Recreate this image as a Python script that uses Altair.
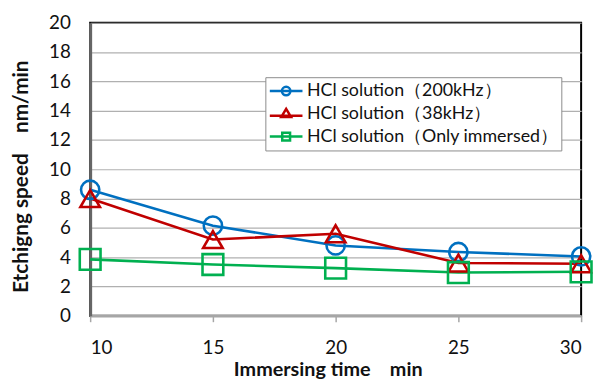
import altair as alt
import pandas as pd

# ---- data ----
times = [10, 15, 20, 25, 30]
series_names = ["HCl solution（200kHz）", "HCl solution（38kHz）", "HCl solution（Only immersed）"]
speed_200k = [8.6, 6.15, 4.8, 4.35, 4.05]
speed_38k = [8.0, 5.2, 5.6, 3.6, 3.55]
speed_imm = [3.85, 3.5, 3.25, 2.95, 3.0]
y_ticks = [0, 2, 4, 6, 8, 10, 12, 14, 16, 18, 20]
x_title = "Immersing time\u00a0\u00a0\u00a0\u00a0min"
y_title = "Etchigng speed\u00a0\u00a0\u00a0\u00a0nm/min"

colors = ["#0070C0", "#C00000", "#00B050"]
marker_shapes = ["circle", "triangle-up", "square"]
marker_sizes = [340, 440, 360]
legend_shapes = [
    "M-1,0H1 M0.26,0A0.26,0.26 0 1,1 -0.26,0A0.26,0.26 0 1,1 0.26,0",
    "M-1,0.12H1 M0,-0.3L0.3,0.2L-0.3,0.2Z",
    "M-1,0H1 M-0.24,-0.24H0.24V0.24H-0.24Z",
]

rows = []
for name, vals in zip(series_names, [speed_200k, speed_38k, speed_imm]):
    for t, v in zip(times, vals):
        rows.append({"time": t, "speed": v, "series": name, "key": name})
df = pd.DataFrame(rows)

FONT = "Lato"

x_enc = alt.X(
    "time:Q",
    scale=alt.Scale(domain=[10, 30], nice=False),
    axis=alt.Axis(
        values=times, title=x_title, grid=False,
        domainColor="#a6a6a6", domainWidth=2.5, tickColor="#a6a6a6",
        tickSize=6, tickWidth=1.5, labelPadding=17, labelFontSize=19,
        labelFont=FONT, labelColor="#111111", titleFont=FONT, titleFontSize=20,
        titleFontWeight="bold", titleColor="#111111", titlePadding=2,
        titleX=240,
    ),
)
y_enc = alt.Y(
    "speed:Q",
    scale=alt.Scale(domain=[0, 20], nice=False),
    axis=alt.Axis(
        values=y_ticks, title=y_title, grid=True,
        gridColor="#b0b0b0", gridWidth=1.2, domainColor="#666666",
        domainWidth=3, ticks=False, labelPadding=20, labelFontSize=19,
        labelFont=FONT, labelColor="#111111", titleFont=FONT, titleFontSize=21,
        titleFontWeight="bold", titleColor="#111111", titlePadding=17,
        titleY=155,
    ),
)

color_scale = alt.Scale(domain=series_names, range=colors)

lines = alt.Chart(df).mark_line(strokeWidth=2.6).encode(
    x=x_enc, y=y_enc,
    color=alt.Color("series:N", scale=color_scale, legend=None),
    detail="series:N",
)

points = alt.Chart(df).mark_point(filled=False, strokeWidth=2.6, opacity=1).encode(
    x=x_enc, y=y_enc,
    color=alt.Color("series:N", scale=color_scale, legend=None),
    shape=alt.Shape("series:N", scale=alt.Scale(domain=series_names, range=marker_shapes), legend=None),
    size=alt.Size("series:N", scale=alt.Scale(domain=series_names, range=marker_sizes), legend=None),
)

legend_props = dict(
    title=None, orient="none", legendX=177, legendY=55,
    fillColor="white", strokeColor="#8c8c8c", padding=3,
    symbolSize=1089, symbolStrokeWidth=2.5, symbolOpacity=1,
    clipHeight=22, rowPadding=1, labelFont=FONT, labelFontSize=18,
    labelOffset=3, labelColor="#111111", labelLimit=400,
)

legend_layer = alt.Chart(df).mark_point(filled=False, opacity=0, strokeWidth=2.5).encode(
    x=x_enc, y=y_enc,
    color=alt.Color("key:N", scale=alt.Scale(domain=series_names, range=colors),
                    legend=alt.Legend(**legend_props)),
    shape=alt.Shape("key:N", scale=alt.Scale(domain=series_names, range=legend_shapes),
                    legend=alt.Legend(**legend_props)),
)

chart = (
    alt.layer(lines, points, legend_layer)
    .resolve_scale(color="independent", shape="independent")
    .properties(
        width=496, height=296,
        autosize=alt.AutoSizeParams(type="none"),
        padding={"left": 83, "top": 13, "right": 12, "bottom": 64},
        background="white",
    )
    .configure_view(stroke="#000000", strokeWidth=2)
)

chart.save("out.html", embed_options={"renderer": "svg", "actions": False})
